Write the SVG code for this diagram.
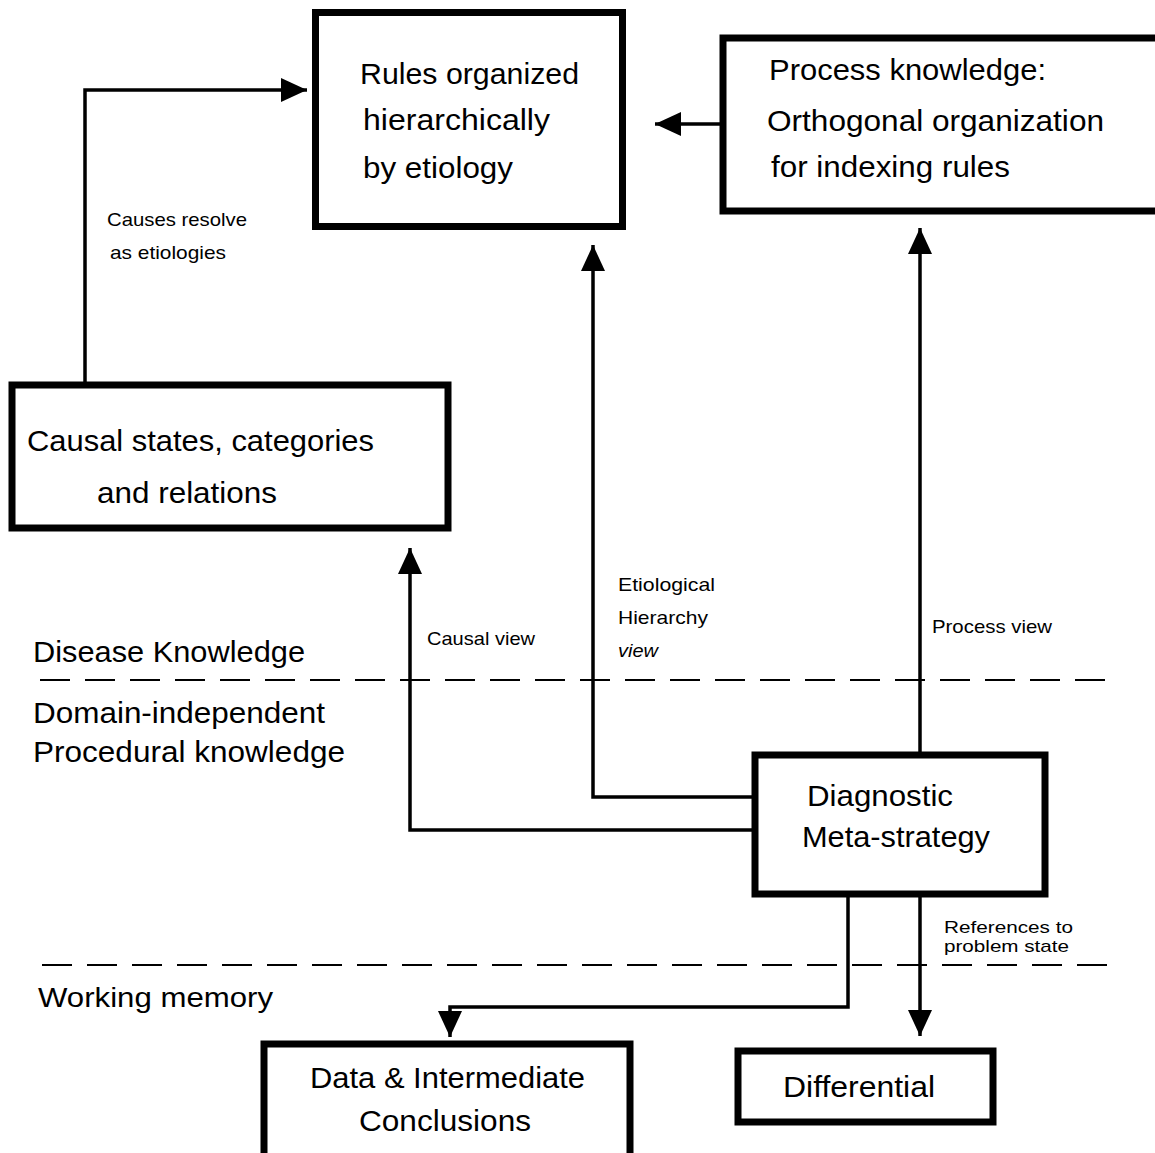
<svg xmlns="http://www.w3.org/2000/svg" width="1155" height="1153" viewBox="0 0 1155 1153">
<style>
.box{fill:#fff;stroke:#000;stroke-width:7}
.t{font-family:"Liberation Sans",Arial,sans-serif;fill:#000}
.big{font-size:30px}
.mid{font-size:28px}
.sm{font-size:19px}
.xs{font-size:17px}
.c{fill:none;stroke:#000;stroke-width:3.5}
.d{fill:none;stroke:#000;stroke-width:2;stroke-dasharray:30 15}
</style>
<defs>
<marker id="ah" markerUnits="userSpaceOnUse" markerWidth="28" markerHeight="24" refX="26" refY="12" orient="auto">
<path d="M0,0 L26,12 L0,24 Z" fill="#000"/>
</marker>
</defs>
<rect width="1155" height="1153" fill="#fff"/>
<g id="dividers">
<line class="d" x1="40" y1="680" x2="1120" y2="680"/>
<line class="d" x1="42" y1="965" x2="1115" y2="965"/>
</g>
<g id="connectors">
<path class="c" d="M85,383 V90 H307" marker-end="url(#ah)"/>
<path class="c" d="M720,124 H655" marker-end="url(#ah)"/>
<path class="c" d="M752,797 H593 V245" marker-end="url(#ah)"/>
<path class="c" d="M752,830 H410 V548" marker-end="url(#ah)"/>
<path class="c" d="M920,752 V228" marker-end="url(#ah)"/>
<path class="c" d="M848,897 V1007 H450 V1037" marker-end="url(#ah)"/>
<path class="c" d="M920,897 V1036" marker-end="url(#ah)"/>
</g>
<g id="labels">
<text class="t sm" x="107" y="226" textLength="140" lengthAdjust="spacingAndGlyphs">Causes resolve</text>
<text class="t sm" x="110" y="259" textLength="116" lengthAdjust="spacingAndGlyphs">as etiologies</text>
<text class="t sm" x="427" y="645" textLength="108" lengthAdjust="spacingAndGlyphs">Causal view</text>
<text class="t sm" x="618" y="591" textLength="97" lengthAdjust="spacingAndGlyphs">Etiological</text>
<text class="t sm" x="618" y="624" textLength="90" lengthAdjust="spacingAndGlyphs">Hierarchy</text>
<text class="t sm" x="618" y="657" font-style="italic" textLength="40" lengthAdjust="spacingAndGlyphs">view</text>
<text class="t sm" x="932" y="633" textLength="120" lengthAdjust="spacingAndGlyphs">Process view</text>
<text class="t xs" x="944" y="933" textLength="129" lengthAdjust="spacingAndGlyphs">References to</text>
<text class="t xs" x="944" y="952" textLength="125" lengthAdjust="spacingAndGlyphs">problem state</text>
<text class="t big" x="33" y="662" textLength="272" lengthAdjust="spacingAndGlyphs">Disease Knowledge</text>
<text class="t big" x="33" y="723" textLength="292" lengthAdjust="spacingAndGlyphs">Domain-independent</text>
<text class="t big" x="33" y="762" textLength="312" lengthAdjust="spacingAndGlyphs">Procedural knowledge</text>
<text class="t mid" x="38" y="1007" textLength="235" lengthAdjust="spacingAndGlyphs">Working memory</text>
</g>
<g id="node-rules">
<rect class="box" x="315.5" y="12.5" width="307" height="214"/>
<text class="t big" x="360" y="84" textLength="219" lengthAdjust="spacingAndGlyphs">Rules organized</text>
<text class="t big" x="363" y="130" textLength="187" lengthAdjust="spacingAndGlyphs">hierarchically</text>
<text class="t big" x="363" y="178" textLength="150" lengthAdjust="spacingAndGlyphs">by etiology</text>
</g>
<g id="node-process">
<rect class="box" x="723" y="38" width="440" height="173"/>
<text class="t big" x="769" y="80" textLength="277" lengthAdjust="spacingAndGlyphs">Process knowledge:</text>
<text class="t big" x="767" y="131" textLength="337" lengthAdjust="spacingAndGlyphs">Orthogonal organization</text>
<text class="t big" x="771" y="177" textLength="239" lengthAdjust="spacingAndGlyphs">for indexing rules</text>
</g>
<g id="node-causal">
<rect class="box" x="12" y="385" width="436" height="143"/>
<text class="t big" x="27" y="451" textLength="347" lengthAdjust="spacingAndGlyphs">Causal states, categories</text>
<text class="t big" x="97" y="503" textLength="180" lengthAdjust="spacingAndGlyphs">and relations</text>
</g>
<g id="node-diagnostic">
<rect class="box" x="755" y="755" width="290" height="139"/>
<text class="t big" x="807" y="806" textLength="146" lengthAdjust="spacingAndGlyphs">Diagnostic</text>
<text class="t big" x="802" y="847" textLength="188" lengthAdjust="spacingAndGlyphs">Meta-strategy</text>
</g>
<g id="node-data">
<rect class="box" x="264" y="1044" width="366" height="115"/>
<text class="t big" x="310" y="1088" textLength="275" lengthAdjust="spacingAndGlyphs">Data &amp; Intermediate</text>
<text class="t big" x="359" y="1131" textLength="172" lengthAdjust="spacingAndGlyphs">Conclusions</text>
</g>
<g id="node-differential">
<rect class="box" x="738" y="1051" width="255" height="71"/>
<text class="t big" x="783" y="1097" textLength="152" lengthAdjust="spacingAndGlyphs">Differential</text>
</g>
</svg>
